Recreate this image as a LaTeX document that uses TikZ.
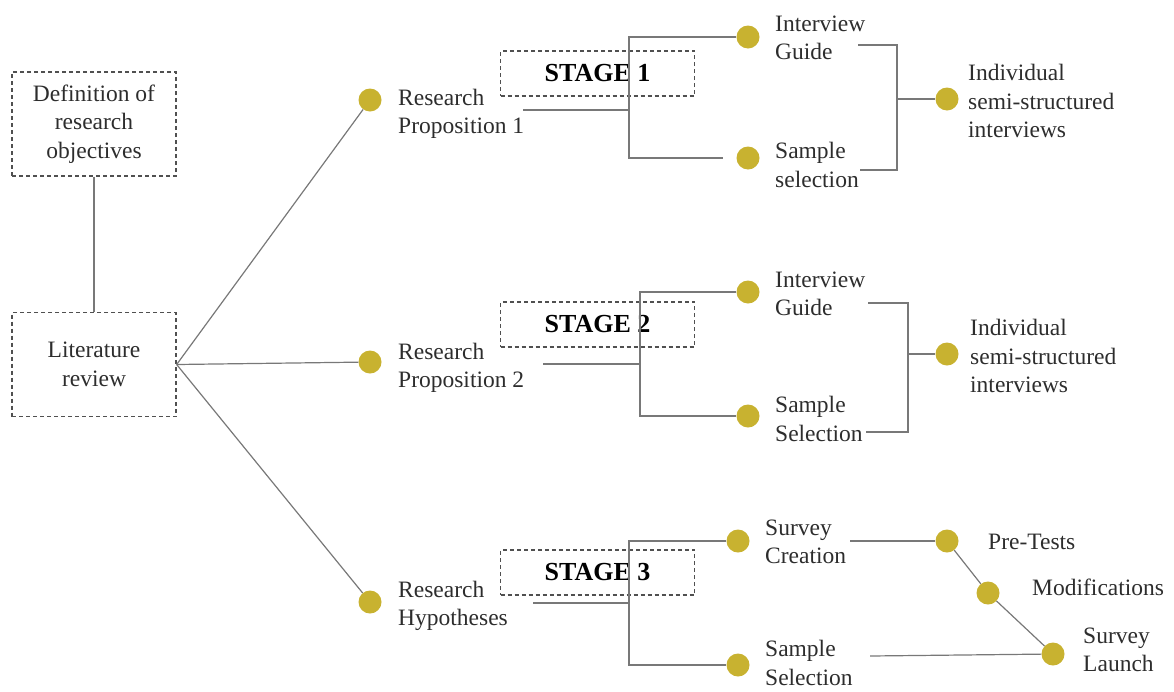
\documentclass[tikz,border=0pt]{standalone}
\usepackage{fontspec}
\setmainfont{Liberation Serif}
\definecolor{dotc}{RGB}{200,178,48}
\definecolor{linec}{RGB}{120,120,120}
\definecolor{boxc}{RGB}{80,80,80}
\definecolor{txt}{RGB}{45,45,45}
\tikzset{
  dotnode/.style={circle, fill=dotc, minimum size=23pt, inner sep=0pt},
  lbl/.style={anchor=west, align=left, inner sep=0pt, font=\fontsize{23.5}{28.5}\selectfont, text=txt},
  dbox/.style={draw=boxc, dash pattern=on 4pt off 3pt, line width=1.3pt, align=center, inner sep=0pt},
  leftbox/.style={dbox, minimum width=164pt, minimum height=104pt, font=\fontsize{23.5}{28.5}\selectfont, text=txt},
  stagebox/.style={dbox, minimum width=194pt, minimum height=45pt, font=\fontsize{26}{30}\selectfont\bfseries, text=black},
  ln/.style={draw=linec, line width=1.2pt},
}
\begin{document}
\begin{tikzpicture}[x=1pt,y=-1pt]
\useasboundingbox (0,0) rectangle (1174,691);

% left boxes
\node[leftbox] (def) at (94,124) {Definition of\\research\\objectives};
\node[leftbox] (lit) at (94,364.5) {Literature\\review};
\draw[ln] (def.south) -- (lit.north);

% level 1 dots
\node[dotnode] (rp1) at (370,100) {};
\node[dotnode] (rp2) at (370,362) {};
\node[dotnode] (rh) at (370,602) {};
\node[lbl] (rp1t) at (398,114) {Research\\Proposition 1};
\node[lbl] (rp2t) at (398,368) {Research\\Proposition 2};
\node[lbl] (rht) at (398,606) {Research\\Hypotheses};
\draw[ln] (lit.east) -- (rp1);
\draw[ln] (lit.east) -- (rp2);
\draw[ln] (lit.east) -- (rh);

% ---------- Stage 1
\node[stagebox] (st1) at (597.5,73.5) {STAGE 1};
\node[dotnode] (ig1) at (748,37) {};
\node[dotnode] (ss1) at (748,158) {};
\node[lbl] (ig1t) at (775,38) {Interview\\Guide};
\node[lbl] (ss1t) at (775,165) {Sample\\selection};
\coordinate (a1) at (523,110);
\coordinate (j1) at (629,110);
\coordinate (t1) at (629,37);
\coordinate (b1) at (629,158);
\coordinate (e1) at (723,158);
\draw[ln] (a1) -- (j1);
\draw[ln] (ig1) -- (t1) -- (b1) -- (e1);
\node[dotnode] (ind1) at (947,99) {};
\node[lbl] (ind1t) at (968,101) {Individual\\semi-structured\\interviews};
\coordinate (k1a) at (858,45);
\coordinate (k1b) at (897,45);
\coordinate (k1c) at (897,170);
\coordinate (k1d) at (860,170);
\coordinate (k1m) at (897,99);
\draw[ln] (k1a) -- (k1b) -- (k1c) -- (k1d);
\draw[ln] (k1m) -- (ind1);

% ---------- Stage 2
\node[stagebox] (st2) at (597.5,324.5) {STAGE 2};
\node[dotnode] (ig2) at (748,292) {};
\node[dotnode] (ss2) at (748,416) {};
\node[lbl] (ig2t) at (775,294) {Interview\\Guide};
\node[lbl] (ss2t) at (775,419) {Sample\\Selection};
\coordinate (a2) at (543,364);
\coordinate (j2) at (640,364);
\coordinate (t2) at (640,292);
\coordinate (b2) at (640,416);
\draw[ln] (a2) -- (j2);
\draw[ln] (ig2) -- (t2) -- (b2) -- (ss2);
\node[dotnode] (ind2) at (947,354) {};
\node[lbl] (ind2t) at (970,356) {Individual\\semi-structured\\interviews};
\coordinate (k2a) at (868,303);
\coordinate (k2b) at (908,303);
\coordinate (k2c) at (908,432);
\coordinate (k2d) at (866,432);
\coordinate (k2m) at (908,354);
\draw[ln] (k2a) -- (k2b) -- (k2c) -- (k2d);
\draw[ln] (k2m) -- (ind2);

% ---------- Stage 3
\node[stagebox] (st3) at (597.5,572.5) {STAGE 3};
\node[dotnode] (sc) at (738,541) {};
\node[dotnode] (ss3) at (738,665) {};
\node[lbl] (sct) at (765,542) {Survey\\Creation};
\node[lbl] (ss3t) at (765,663) {Sample\\Selection};
\coordinate (a3) at (533,603);
\coordinate (j3) at (629,603);
\coordinate (t3) at (629,541);
\coordinate (b3) at (629,665);
\draw[ln] (a3) -- (j3);
\draw[ln] (sc) -- (t3) -- (b3) -- (ss3);

\node[dotnode] (pt) at (947,541) {};
\node[dotnode] (mod) at (988,593) {};
\node[dotnode] (sl) at (1053,654) {};
\node[lbl] (ptt) at (988,542) {Pre-Tests};
\node[lbl] (modt) at (1032,587) {Modifications};
\node[lbl] (slt) at (1083,650) {Survey\\Launch};
\coordinate (sc2) at (850,541);
\coordinate (ss3b) at (870,656);
\draw[ln] (sc2) -- (pt);
\draw[ln] (pt) -- (mod) -- (sl);
\draw[ln] (ss3b) -- (sl);
\end{tikzpicture}
\end{document}
